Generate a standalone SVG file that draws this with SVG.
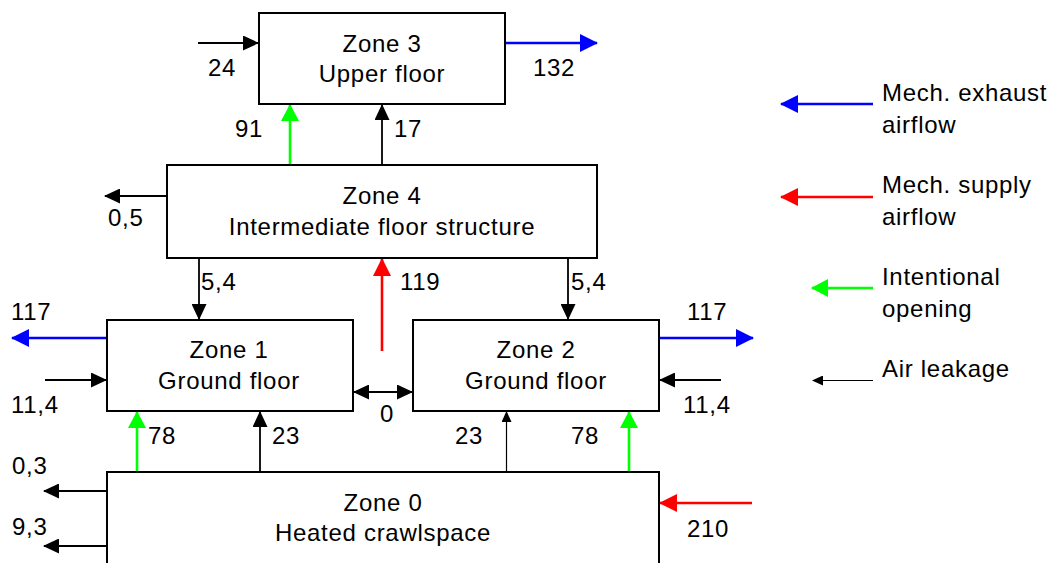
<svg xmlns="http://www.w3.org/2000/svg" width="1052" height="563" viewBox="0 0 1052 563">
<style>
text{font-family:"Liberation Sans",Arial,sans-serif;font-size:24px;letter-spacing:0.7px;fill:#000}
.c{text-anchor:middle}
.box{fill:#fff;stroke:#000;stroke-width:2}
.k{stroke:#000;stroke-width:1.8;fill:none}
.kt{stroke:#000;stroke-width:1.2;fill:none}
.b{stroke:#0000ff;stroke-width:2.6;fill:none}
.r{stroke:#ff0000;stroke-width:2.6;fill:none}
.g{stroke:#00ff00;stroke-width:2.6;fill:none}
</style>
<defs>
<marker id="ak" markerUnits="userSpaceOnUse" viewBox="0 0 16 15" refX="15" refY="7.5" markerWidth="16" markerHeight="15" orient="auto-start-reverse"><path d="M0,0 L16,7.5 L0,15 z" fill="#000"/></marker>
<marker id="aks" markerUnits="userSpaceOnUse" viewBox="0 0 11 10" refX="10" refY="5" markerWidth="11" markerHeight="10" orient="auto"><path d="M0,0 L11,5 L0,10 z" fill="#000"/></marker>
<marker id="ab" markerUnits="userSpaceOnUse" viewBox="0 0 18 18" refX="17" refY="9" markerWidth="18" markerHeight="18" orient="auto"><path d="M0,0 L18,9 L0,18 z" fill="#0000ff"/></marker>
<marker id="ar" markerUnits="userSpaceOnUse" viewBox="0 0 18 18" refX="17" refY="9" markerWidth="18" markerHeight="18" orient="auto"><path d="M0,0 L18,9 L0,18 z" fill="#ff0000"/></marker>
<marker id="ag" markerUnits="userSpaceOnUse" viewBox="0 0 17 18" refX="16" refY="9" markerWidth="17" markerHeight="18" orient="auto"><path d="M0,0 L17,9 L0,18 z" fill="#00ff00"/></marker>
</defs>

<g id="connectors">
  <line class="k" x1="198" y1="43" x2="258" y2="43" marker-end="url(#ak)"/>
  <line class="b" x1="505" y1="43" x2="597" y2="43" marker-end="url(#ab)"/>
  <line class="g" x1="290" y1="165" x2="290" y2="105" marker-end="url(#ag)"/>
  <line class="k" x1="382" y1="165" x2="382" y2="105" marker-end="url(#ak)"/>
  <line class="k" x1="167" y1="196" x2="105" y2="196" marker-end="url(#ak)"/>
  <line class="k" x1="199" y1="258" x2="199" y2="319" marker-end="url(#ak)"/>
  <line class="k" x1="568" y1="258" x2="568" y2="319" marker-end="url(#ak)"/>
  <line class="r" x1="382" y1="351" x2="382" y2="259" marker-end="url(#ar)"/>
  <line class="b" x1="107" y1="338" x2="12" y2="338" marker-end="url(#ab)"/>
  <line class="b" x1="659" y1="338" x2="753" y2="338" marker-end="url(#ab)"/>
  <line class="k" x1="45" y1="380" x2="106" y2="380" marker-end="url(#ak)"/>
  <line class="k" x1="721" y1="380" x2="660" y2="380" marker-end="url(#ak)"/>
  <line class="k" x1="354" y1="392" x2="412" y2="392" marker-start="url(#ak)" marker-end="url(#ak)"/>
  <line class="g" x1="137" y1="472" x2="137" y2="412" marker-end="url(#ag)"/>
  <line class="k" x1="260" y1="472" x2="260" y2="412" marker-end="url(#ak)"/>
  <line class="kt" x1="506.5" y1="472" x2="506.5" y2="412" marker-end="url(#aks)"/>
  <line class="g" x1="629" y1="472" x2="629" y2="412" marker-end="url(#ag)"/>
  <line class="k" x1="107" y1="491" x2="44" y2="491" marker-end="url(#ak)"/>
  <line class="k" x1="107" y1="546" x2="44" y2="546" marker-end="url(#ak)"/>
  <line class="r" x1="752" y1="503" x2="660" y2="503" marker-end="url(#ar)"/>
</g>

<g id="labels">
  <text x="208" y="76">24</text>
  <text x="533" y="76">132</text>
  <text x="235" y="137">91</text>
  <text x="394" y="137">17</text>
  <text x="108" y="226">0,5</text>
  <text x="201" y="290">5,4</text>
  <text x="571" y="290">5,4</text>
  <text x="400" y="290">119</text>
  <text x="11" y="320">117</text>
  <text x="687" y="320">117</text>
  <text x="11" y="413">11,4</text>
  <text x="683" y="413">11,4</text>
  <text x="380" y="422">0</text>
  <text x="148" y="444">78</text>
  <text x="272" y="444">23</text>
  <text x="455" y="444">23</text>
  <text x="571" y="444">78</text>
  <text x="12" y="474">0,3</text>
  <text x="12" y="535">9,3</text>
  <text x="687" y="537">210</text>
</g>

<g id="zone3">
  <rect class="box" x="259" y="13" width="246" height="91"/>
  <text class="c" x="382" y="52">Zone 3</text>
  <text class="c" x="382" y="82">Upper floor</text>
</g>
<g id="zone4">
  <rect class="box" x="167" y="165" width="430" height="93"/>
  <text class="c" x="382" y="204">Zone 4</text>
  <text class="c" x="382" y="235">Intermediate floor structure</text>
</g>
<g id="zone1">
  <rect class="box" x="107" y="320" width="246" height="91"/>
  <text class="c" x="229" y="358">Zone 1</text>
  <text class="c" x="229" y="389">Ground floor</text>
</g>
<g id="zone2">
  <rect class="box" x="413" y="320" width="246" height="91"/>
  <text class="c" x="536" y="358">Zone 2</text>
  <text class="c" x="536" y="389">Ground floor</text>
</g>
<g id="zone0">
  <rect class="box" x="107" y="472" width="552" height="120"/>
  <text class="c" x="383" y="511">Zone 0</text>
  <text class="c" x="383" y="541">Heated crawlspace</text>
</g>

<g id="legend">
  <line class="b" x1="873" y1="104" x2="781" y2="104" marker-end="url(#ab)"/>
  <text x="882" y="101">Mech. exhaust</text>
  <text x="882" y="133">airflow</text>
  <line class="r" x1="873" y1="197" x2="781" y2="197" marker-end="url(#ar)"/>
  <text x="882" y="193">Mech. supply</text>
  <text x="882" y="225">airflow</text>
  <line class="g" x1="873" y1="288" x2="812" y2="288" marker-end="url(#ag)"/>
  <text x="882" y="285">Intentional</text>
  <text x="882" y="317">opening</text>
  <line class="kt" x1="873" y1="380.5" x2="813" y2="380.5" marker-end="url(#aks)"/>
  <text x="882" y="377">Air leakage</text>
</g>
</svg>
